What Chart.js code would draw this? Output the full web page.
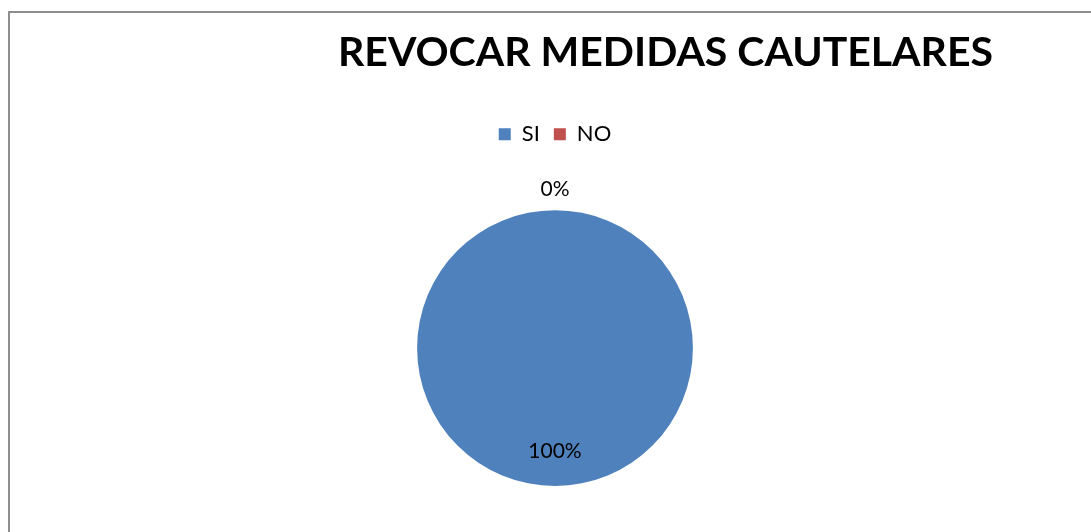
<!DOCTYPE html>
<html lang="es">
  <head>
    <meta charset="UTF-8" />
    <title>Revocar medidas cautelares</title>
    <style>
      body {
        margin: 0;
        background: #fff;
        overflow: hidden;
      }
      #marco {
        position: absolute;
        left: 8px;
        top: 11px;
        width: 1200px;
        height: 600px;
        border-left: 2px solid #8e8e8e;
        border-top: 2px solid #8e8e8e;
      }
      #graphContainer {
        position: absolute;
        left: 0;
        top: 0;
        width: 1091px;
        height: 532px;
      }
    </style>
    <script src="https://cdn.jsdelivr.net/npm/chart.js"></script>
  </head>
  <body>
    <div id="marco"></div>
    <div id="graphContainer">
      <canvas id="graph"></canvas>
    </div>

    <script>
      // datos del grafico
      const categorias = ["SI", "NO"];
      const valores = [100, 0];
      const etiquetas = ["100%", "0%"];
      const colores = ["#4F81BD", "#C0504D"];

      const fuente = "Lato, 'Open Sans', sans-serif";

      // espacio extra debajo de la leyenda (para el 0% de arriba)
      const espacioLeyenda = {
        id: "espacioLeyenda",
        beforeInit(chart) {
          const fitOriginal = chart.legend.fit;
          chart.legend.fit = function () {
            fitOriginal.bind(chart.legend)();
            this.height += 55;
          };
        },
      };

      // dibuja los porcentajes sobre cada porcion
      const etiquetasPlugin = {
        id: "etiquetas",
        afterDatasetsDraw(chart) {
          const ctx = chart.ctx;
          const meta = chart.getDatasetMeta(0);
          ctx.save();
          ctx.font = "21px " + fuente;
          ctx.fillStyle = "#000";
          ctx.textAlign = "center";
          ctx.textBaseline = "middle";
          meta.data.forEach((arc, i) => {
            const p = arc.getProps(["x", "y", "startAngle", "endAngle", "outerRadius"], true);
            const ang = (p.startAngle + p.endAngle) / 2;
            // porcion vacia: etiqueta afuera, la llena adentro
            const r = valores[i] === 0 ? p.outerRadius + 21 : p.outerRadius * 0.75;
            ctx.fillText(etiquetas[i], p.x + Math.cos(ang) * r, p.y + Math.sin(ang) * r);
          });
          ctx.restore();
        },
      };

      new Chart(document.getElementById("graph"), {
        type: "pie",
        data: {
          labels: categorias,
          datasets: [
            {
              data: valores,
              backgroundColor: colores,
              borderColor: "#fff",
              borderWidth: 0,
            },
          ],
        },
        options: {
          responsive: true,
          maintainAspectRatio: false,
          animation: false,
          layout: {
            padding: { left: 117, right: 98, top: 28, bottom: 46 },
          },
          plugins: {
            title: {
              display: true,
              text: "REVOCAR MEDIDAS CAUTELARES",
              align: "end",
              color: "#000",
              font: { family: fuente, size: 41, weight: "bold" },
              padding: { top: 0, bottom: 32 },
            },
            legend: {
              position: "top",
              labels: {
                color: "#000",
                font: { family: fuente, size: 22 },
                boxWidth: 12,
                boxHeight: 12,
                padding: 14,
              },
            },
            tooltip: { enabled: false },
          },
        },
        plugins: [etiquetasPlugin, espacioLeyenda],
      });
    </script>
  </body>
</html>
